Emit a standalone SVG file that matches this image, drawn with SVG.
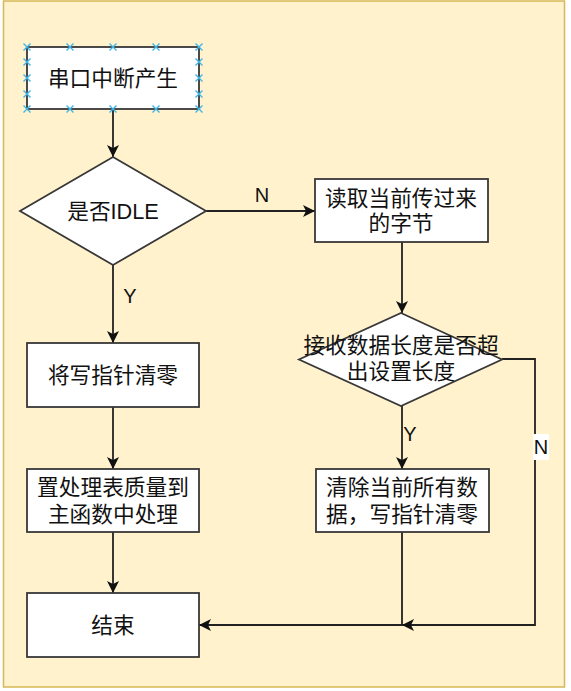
<svg xmlns="http://www.w3.org/2000/svg" width="571" height="691" viewBox="0 0 571 691">
  <style>
    .box { fill: #ffffff; stroke: #383838; stroke-width: 1.8; }
    .edge { fill: none; stroke: #222222; stroke-width: 1.8; }
    .t { font-family: "Liberation Sans", "Noto Sans CJK SC", sans-serif; font-size: 21.7px; fill: #111111; text-anchor: middle; dominant-baseline: central; }
    .lbl { font-family: "Liberation Sans", "Noto Sans CJK SC", sans-serif; font-size: 20px; fill: #111111; text-anchor: middle; dominant-baseline: central; }
    .hx { stroke: #3fb6ea; stroke-width: 1.4; fill: none; }
  </style>
  <defs>
    <marker id="arr" markerUnits="userSpaceOnUse" markerWidth="14" markerHeight="12" refX="12" refY="6" orient="auto">
      <path d="M0,0 L12,6 L0,12 L3,6 Z" fill="#111111"/>
    </marker>
    <path id="xmark" d="M-3.5,-3.5 L3.5,3.5 M-3.5,3.5 L3.5,-3.5"/>
  </defs>

  <rect x="3.5" y="1" width="561" height="686" fill="#fff2cc" stroke="#d6b656" stroke-width="1.5"/>

  <g id="connectors">
    <line class="edge" x1="113" y1="109" x2="113" y2="157" marker-end="url(#arr)"/>
    <line class="edge" x1="206" y1="211" x2="315" y2="211" marker-end="url(#arr)"/>
    <line class="edge" x1="113" y1="265" x2="113" y2="343" marker-end="url(#arr)"/>
    <line class="edge" x1="113" y1="407" x2="113" y2="469" marker-end="url(#arr)"/>
    <line class="edge" x1="113" y1="532" x2="113" y2="593" marker-end="url(#arr)"/>
    <line class="edge" x1="402" y1="242" x2="402" y2="313" marker-end="url(#arr)"/>
    <line class="edge" x1="402" y1="406" x2="402" y2="469" marker-end="url(#arr)"/>
    <polyline class="edge" points="402,532 402,625 199,625" marker-end="url(#arr)"/>
    <polyline class="edge" points="502,359 535,359 535,625 402,625" marker-end="url(#arr)"/>
    <text class="lbl" x="262" y="195">N</text>
    <text class="lbl" x="130" y="296">Y</text>
    <text class="lbl" x="410" y="434">Y</text>
    <rect x="533" y="434" width="16" height="26" fill="#ffffff"/>
    <text class="lbl" x="541" y="447">N</text>
  </g>

  <g id="n1">
    <rect class="box" x="27" y="47" width="172" height="62"/>
    <text class="t" x="113" y="78">串口中断产生</text>
    <g class="hx">
      <use href="#xmark" x="27" y="47"/><use href="#xmark" x="70" y="47"/><use href="#xmark" x="113" y="47"/><use href="#xmark" x="156" y="47"/><use href="#xmark" x="199" y="47"/>
      <use href="#xmark" x="27" y="109"/><use href="#xmark" x="70" y="109"/><use href="#xmark" x="113" y="109"/><use href="#xmark" x="156" y="109"/><use href="#xmark" x="199" y="109"/>
      <use href="#xmark" x="27" y="62"/><use href="#xmark" x="27" y="78"/><use href="#xmark" x="27" y="94"/>
      <use href="#xmark" x="199" y="62"/><use href="#xmark" x="199" y="78"/><use href="#xmark" x="199" y="94"/>
    </g>
  </g>

  <g id="d1">
    <polygon class="box" points="113,157 206,211 113,265 20,211"/>
    <text class="t" x="113" y="211">是否IDLE</text>
  </g>

  <g id="n3">
    <rect class="box" x="27" y="343" width="172" height="64"/>
    <text class="t" x="113" y="375">将写指针清零</text>
  </g>

  <g id="n4">
    <rect class="box" x="27" y="469" width="172" height="63"/>
    <text class="t" x="113" y="487">置处理表质量到</text>
    <text class="t" x="113" y="514">主函数中处理</text>
  </g>

  <g id="n5">
    <rect class="box" x="27" y="593" width="172" height="64"/>
    <text class="t" x="113" y="625">结束</text>
  </g>

  <g id="n2">
    <rect class="box" x="315" y="179" width="173" height="63"/>
    <text class="t" x="401" y="198">读取当前传过来</text>
    <text class="t" x="401" y="223">的字节</text>
  </g>

  <g id="d2">
    <polygon class="box" points="401,313 502,359.5 401,406 299,359.5"/>
    <text class="t" x="401" y="345">接收数据长度是否超</text>
    <text class="t" x="401" y="371">出设置长度</text>
  </g>

  <g id="n6">
    <rect class="box" x="316" y="469" width="173" height="63"/>
    <text class="t" x="402" y="487">清除当前所有数</text>
    <text class="t" x="402" y="514">据，写指针清零</text>
  </g>
</svg>
